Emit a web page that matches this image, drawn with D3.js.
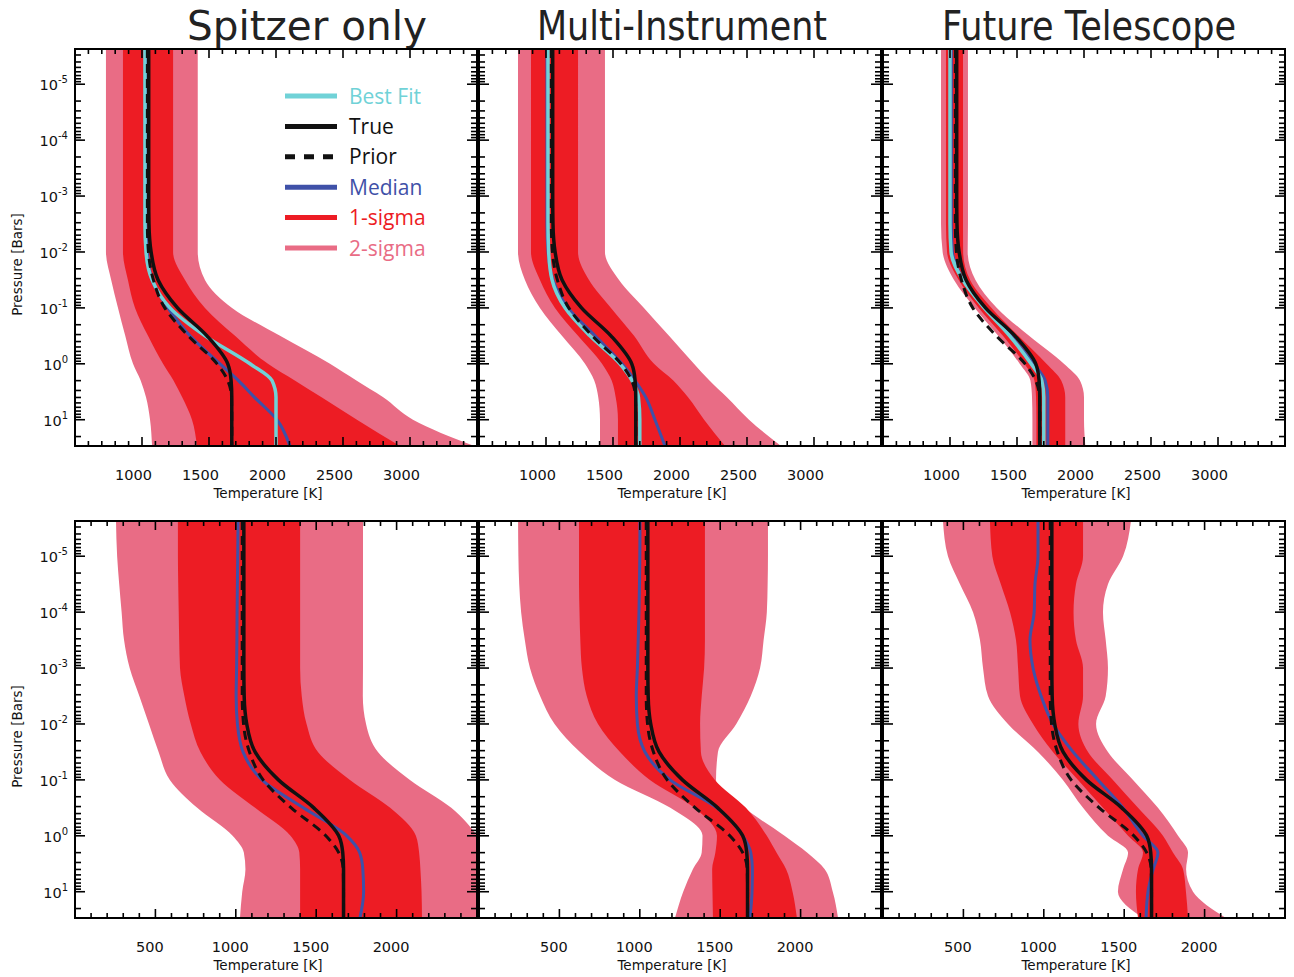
<!DOCTYPE html>
<html>
<head>
<meta charset="utf-8">
<script src="https://cdn.jsdelivr.net/npm/d3@7"></script>
<style>
  body { margin: 0; background: #fff; }
  svg { display: block; }
</style>
</head>
<body>
<svg id="chart" width="1294" height="977"></svg>
<script>
// Pressure levels (log10 bar) shared by every profile below
const LOG_P = [-5.63, -5, -4.5, -4, -3.5, -3, -2.5, -2, -1.5, -1, -0.5, 0, 0.3, 0.6, 1, 1.47];

// True and prior temperature profiles (K)
const TRUE_T  = [1050, 1050, 1050, 1050, 1050, 1050, 1052, 1068, 1120, 1265, 1485, 1640, 1665, 1670, 1670, 1670];
const PRIOR_T = [1040, 1040, 1040, 1040, 1040, 1040, 1040, 1048, 1085, 1170, 1345, 1560, 1640, 1668, 1670, 1670];

// Top row: Spitzer only
const S_LO2  = [731, 731, 731, 731, 731, 731, 731, 731, 770, 821, 875, 933, 990, 1030, 1060, 1075];
const S_LO1  = [858, 858, 858, 858, 858, 858, 858, 858, 895, 948, 1045, 1157, 1235, 1300, 1373, 1410];
const S_HI1  = [1232, 1232, 1232, 1232, 1232, 1232, 1232, 1232, 1321, 1470, 1694, 1940, 2140, 2340, 2604, 2925];
const S_HI2  = [1416, 1416, 1416, 1416, 1416, 1416, 1416, 1416, 1470, 1672, 2030, 2403, 2600, 2800, 3022, 3480];
const S_MED  = [1030, 1030, 1030, 1030, 1030, 1030, 1030, 1040, 1075, 1194, 1358, 1582, 1720, 1840, 2007, 2104];
const S_BEST = [1022, 1022, 1022, 1022, 1022, 1022, 1022, 1030, 1075, 1209, 1470, 1806, 1970, 2000, 2000, 2000];

// Top row: Multi-Instrument
const M_LO2  = [791, 791, 791, 791, 791, 791, 791, 791, 843, 955, 1119, 1291, 1360, 1390, 1403, 1403];
const M_LO1  = [888, 888, 888, 888, 888, 888, 888, 888, 955, 1067, 1239, 1418, 1490, 1520, 1537, 1537];
const M_HI1  = [1239, 1239, 1239, 1239, 1239, 1239, 1239, 1239, 1321, 1485, 1657, 1806, 1950, 2060, 2180, 2336];
const M_HI2  = [1440, 1440, 1440, 1440, 1440, 1440, 1440, 1440, 1545, 1731, 1918, 2104, 2220, 2350, 2515, 2754];
const M_MED  = [1007, 1007, 1007, 1007, 1007, 1007, 1007, 1015, 1052, 1164, 1366, 1567, 1664, 1745, 1813, 1888];
const M_BEST = [1015, 1015, 1015, 1015, 1015, 1015, 1015, 1020, 1045, 1142, 1328, 1552, 1642, 1690, 1700, 1700];

// Top row: Future Telescope
const F_LO2  = [933, 933, 933, 933, 933, 933, 933, 945, 1030, 1185, 1360, 1520, 1600, 1612, 1615, 1615];
const F_LO1  = [970, 970, 970, 970, 970, 970, 970, 978, 1065, 1215, 1395, 1555, 1630, 1642, 1645, 1645];
const F_HI1  = [1097, 1097, 1097, 1097, 1097, 1097, 1097, 1098, 1150, 1310, 1510, 1720, 1830, 1860, 1860, 1860];
const F_HI2  = [1134, 1134, 1134, 1134, 1134, 1134, 1134, 1132, 1190, 1350, 1590, 1850, 1970, 2000, 2000, 2010];
const F_MED  = [1010, 1010, 1010, 1010, 1010, 1010, 1010, 1018, 1100, 1262, 1455, 1625, 1710, 1730, 1730, 1730];
const F_BEST = [1000, 1000, 1000, 1000, 1000, 1000, 1000, 1008, 1095, 1255, 1445, 1605, 1685, 1700, 1700, 1700];

// Bottom row: Spitzer only
const BS_LO2 = [255, 262, 275, 290, 305, 340, 400, 460, 520, 590, 760, 980, 1050, 1060, 1040, 1026];
const BS_LO1 = [640, 640, 642, 645, 648, 653, 680, 720, 780, 902, 1120, 1340, 1395, 1400, 1400, 1400];
const BS_HI1 = [1400, 1400, 1400, 1400, 1400, 1400, 1410, 1440, 1511, 1710, 1960, 2120, 2140, 2148, 2155, 2158];
const BS_HI2 = [1791, 1791, 1791, 1791, 1791, 1791, 1790, 1810, 1884, 2083, 2340, 2500, 2560, 2580, 2600, 2600];
const BS_MED = [1014, 1012, 1010, 1008, 1007, 1005, 1002, 1010, 1045, 1163, 1420, 1690, 1770, 1790, 1795, 1772];

// Bottom row: Multi-Instrument
const BM_LO2 = [243, 245, 250, 262, 285, 317, 380, 470, 628, 846, 1190, 1390, 1385, 1330, 1270, 1219];
const BM_LO1 = [622, 622, 622, 625, 630, 640, 670, 740, 877, 1063, 1340, 1480, 1470, 1450, 1452, 1455];
const BM_HI1 = [1405, 1405, 1405, 1405, 1405, 1400, 1385, 1375, 1380, 1467, 1660, 1790, 1850, 1910, 1950, 1977];
const BM_HI2 = [1797, 1797, 1795, 1790, 1770, 1748, 1690, 1600, 1486, 1474, 1650, 1900, 2040, 2150, 2200, 2233];
const BM_MED = [1001, 1000, 998, 995, 990, 985, 978, 985, 1032, 1188, 1480, 1640, 1690, 1700, 1698, 1685];

// Bottom row: Future Telescope
const BF_LO2 = [373, 404, 479, 560, 603, 622, 653, 777, 964, 1119, 1244, 1399, 1524, 1493, 1461, 1617];
const BF_LO1 = [665, 680, 733, 790, 827, 840, 852, 933, 1057, 1213, 1368, 1524, 1617, 1586, 1573, 1586];
const BF_HI1 = [1244, 1244, 1200, 1185, 1200, 1244, 1244, 1215, 1275, 1430, 1586, 1741, 1803, 1866, 1884, 1897];
const BF_HI2 = [1542, 1493, 1399, 1368, 1385, 1399, 1385, 1325, 1399, 1555, 1710, 1835, 1897, 1885, 1928, 2133];
const BF_MED = [964, 964, 945, 940, 914, 933, 983, 1057, 1182, 1337, 1493, 1617, 1710, 1680, 1648, 1636];

const TITLES = ["Spitzer only", "Multi-Instrument", "Future Telescope"];
const X_LABELS_TOP = [1000, 1500, 2000, 2500, 3000];
const X_LABELS_BOTTOM = [500, 1000, 1500, 2000];
const P_LABEL_EXP = [-5, -4, -3, -2, -1, 0, 1];
const LEGEND_ITEMS = ["Best Fit", "True", "Prior", "Median", "1-sigma", "2-sigma"];

const COLORS = {
  sig2: "#e96c85", sig1: "#ed1c24", best: "#70d2d7",
  truth: "#111111", median: "#3f51a8"
};

const panels = [
  { row: 0, col: 0, lo2: S_LO2, lo1: S_LO1, hi1: S_HI1, hi2: S_HI2, med: S_MED, best: S_BEST },
  { row: 0, col: 1, lo2: M_LO2, lo1: M_LO1, hi1: M_HI1, hi2: M_HI2, med: M_MED, best: M_BEST },
  { row: 0, col: 2, lo2: F_LO2, lo1: F_LO1, hi1: F_HI1, hi2: F_HI2, med: F_MED, best: F_BEST },
  { row: 1, col: 0, lo2: BS_LO2, lo1: BS_LO1, hi1: BS_HI1, hi2: BS_HI2, med: BS_MED, best: null },
  { row: 1, col: 1, lo2: BM_LO2, lo1: BM_LO1, hi1: BM_HI1, hi2: BM_HI2, med: BM_MED, best: null },
  { row: 1, col: 2, lo2: BF_LO2, lo1: BF_LO1, hi1: BF_HI1, hi2: BF_HI2, med: BF_MED, best: null }
];

// Layout
const PANEL_W = 402, PANEL_H = 397;
const COL_X = [75, 479, 883];
const ROW_Y = [49, 521];
const X_DOMAINS = [[500, 3500], [0, 2500]];
const X_LABEL_VALUES = [X_LABELS_TOP, X_LABELS_BOTTOM];
const X_LABEL_SHIFT = [-9, -6];
const P_DOMAIN = [Math.pow(10, -5.63), Math.pow(10, 1.47)];

const svg = d3.select("#chart");
const FONT = "'DejaVu Sans', sans-serif";
const LEGEND_FONT = "'Open Sans', sans-serif";

// Column titles
const TITLE_X = [307, 682, 1089];
const TITLE_W = [240, 290, 294];
TITLES.forEach((t, i) => {
  svg.append("text")
    .attr("x", TITLE_X[i]).attr("y", 40)
    .attr("text-anchor", "middle")
    .attr("font-family", FONT)
    .attr("font-size", 40)
    .attr("textLength", TITLE_W[i])
    .attr("lengthAdjust", "spacingAndGlyphs")
    .attr("fill", "#222")
    .text(t);
});

panels.forEach((pn, idx) => {
  const g = svg.append("g")
    .attr("transform", `translate(${COL_X[pn.col]},${ROW_Y[pn.row]})`);
  const x = d3.scaleLinear().domain(X_DOMAINS[pn.row]).range([0, PANEL_W]);
  const y = d3.scaleLog().domain(P_DOMAIN).range([0, PANEL_H]);

  const clipId = "clip" + idx;
  g.append("clipPath").attr("id", clipId)
    .append("rect").attr("width", PANEL_W).attr("height", PANEL_H);

  const rows = LOG_P.map((lp, i) => ({
    p: Math.pow(10, lp),
    lo2: pn.lo2[i], lo1: pn.lo1[i], hi1: pn.hi1[i], hi2: pn.hi2[i],
    med: pn.med[i], best: pn.best ? pn.best[i] : null,
    truth: TRUE_T[i], prior: PRIOR_T[i]
  }));

  const plot = g.append("g").attr("clip-path", `url(#${clipId})`);

  const band = (a, b) => d3.area()
    .y(d => y(d.p)).x0(d => x(d[a])).x1(d => x(d[b]))
    .curve(d3.curveMonotoneY);
  const line = key => d3.line()
    .y(d => y(d.p)).x(d => x(d[key]))
    .curve(d3.curveMonotoneY);

  plot.append("path").datum(rows).attr("d", band("lo2", "hi2")).attr("fill", COLORS.sig2);
  plot.append("path").datum(rows).attr("d", band("lo1", "hi1")).attr("fill", COLORS.sig1);

  plot.append("path").datum(rows).attr("d", line("med"))
    .attr("fill", "none").attr("stroke", COLORS.median).attr("stroke-width", 3);
  if (pn.best) {
    plot.append("path").datum(rows).attr("d", line("best"))
      .attr("fill", "none").attr("stroke", COLORS.best).attr("stroke-width", 3.5);
  }
  plot.append("path").datum(rows).attr("d", line("truth"))
    .attr("fill", "none").attr("stroke", COLORS.truth).attr("stroke-width", 3.5);
  plot.append("path").datum(rows).attr("d", line("prior"))
    .attr("fill", "none").attr("stroke", COLORS.truth).attr("stroke-width", 3)
    .attr("stroke-dasharray", "9,6");

  // Frame
  g.append("rect").attr("width", PANEL_W).attr("height", PANEL_H)
    .attr("fill", "none").attr("stroke", "#000").attr("stroke-width", 2);

  // Temperature ticks on top and bottom edges (inward)
  const [t0, t1] = X_DOMAINS[pn.row];
  const xMinor = d3.range(t0, t1 + 1, 100);
  const ticks = g.append("g").attr("stroke", "#000").attr("stroke-width", 1.6);
  xMinor.forEach(v => {
    const len = v % 500 === 0 ? 9 : 5;
    const xx = x(v);
    ticks.append("line").attr("x1", xx).attr("x2", xx).attr("y1", PANEL_H).attr("y2", PANEL_H - len);
    ticks.append("line").attr("x1", xx).attr("x2", xx).attr("y1", 0).attr("y2", len);
  });

  // Pressure ticks on left and right edges (inward)
  y.ticks().forEach(v => {
    const major = Math.abs(Math.log10(v) - Math.round(Math.log10(v))) < 1e-9;
    const len = major ? 10 : 6;
    const yy = y(v);
    if (yy < 0 || yy > PANEL_H) return;
    ticks.append("line").attr("x1", 0).attr("x2", len).attr("y1", yy).attr("y2", yy);
    ticks.append("line").attr("x1", PANEL_W).attr("x2", PANEL_W - len).attr("y1", yy).attr("y2", yy);
  });

  // Temperature labels
  const xAxis = d3.axisBottom(x).tickValues(X_LABEL_VALUES[pn.row]).tickSize(0).tickFormat(d3.format("d"));
  const xa = g.append("g").attr("transform", `translate(0,${PANEL_H})`).call(xAxis);
  xa.select(".domain").remove();
  xa.selectAll("text")
    .attr("y", 34).attr("dy", 0).attr("dx", X_LABEL_SHIFT[pn.row])
    .attr("font-family", FONT).attr("font-size", 14.5).attr("fill", "#111");
  g.append("text")
    .attr("x", PANEL_W / 2 - 8).attr("y", PANEL_H + 52)
    .attr("text-anchor", "middle")
    .attr("font-family", FONT).attr("font-size", 13.5).attr("fill", "#111")
    .text("Temperature [K]");

  // Pressure labels on the first column
  if (pn.col === 0) {
    P_LABEL_EXP.forEach(e => {
      const t = g.append("text")
        .attr("x", -7).attr("y", y(Math.pow(10, e)) + 6)
        .attr("text-anchor", "end")
        .attr("font-family", FONT).attr("fill", "#111");
      t.append("tspan").attr("font-size", 14.5).text("10");
      t.append("tspan").attr("font-size", 10).attr("dy", -7).text(String(e));
    });
    g.append("text")
      .attr("transform", `translate(-53,${PANEL_H / 2 + 17}) rotate(-90)`)
      .attr("text-anchor", "middle")
      .attr("font-family", FONT).attr("font-size", 13.5).attr("fill", "#111")
      .text("Pressure [Bars]");
  }
});

// Legend inside the first panel
const legendColors = [COLORS.best, COLORS.truth, COLORS.truth, COLORS.median, COLORS.sig1, COLORS.sig2];
const legendTextColors = [COLORS.best, "#111", "#111", COLORS.median, COLORS.sig1, COLORS.sig2];
const legend = svg.append("g").attr("transform", "translate(285,96)");
LEGEND_ITEMS.forEach((name, i) => {
  const yy = i * 30.4;
  legend.append("line")
    .attr("x1", 0).attr("x2", 52).attr("y1", yy).attr("y2", yy)
    .attr("stroke", legendColors[i]).attr("stroke-width", 5)
    .attr("stroke-dasharray", name === "Prior" ? "10,9" : null);
  legend.append("text")
    .attr("x", 64).attr("y", yy + 7.5)
    .attr("font-family", LEGEND_FONT).attr("font-size", 21)
    .attr("fill", legendTextColors[i])
    .text(name);
});
</script>
</body>
</html>
